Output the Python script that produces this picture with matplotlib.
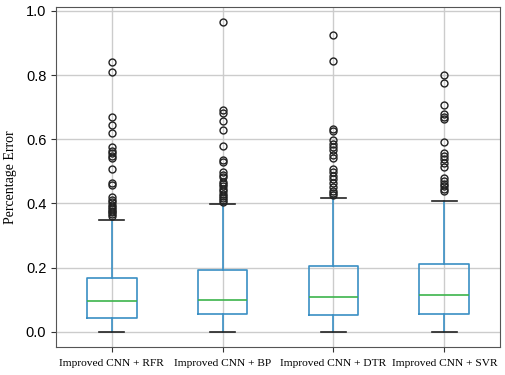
import matplotlib
matplotlib.use("Agg")
import matplotlib.pyplot as plt

# model names shown under each box
labels = ["Improved CNN + RFR", "Improved CNN + BP", "Improved CNN + DTR", "Improved CNN + SVR"]

# box statistics
whis_lo = [0.0, 0.0, 0.0, 0.0]
q1 = [0.044, 0.054, 0.052, 0.055]
median = [0.097, 0.100, 0.109, 0.116]
q3 = [0.167, 0.192, 0.205, 0.211]
whis_hi = [0.350, 0.399, 0.417, 0.409]

# outliers above the upper whisker
fliers_rfr = [0.841, 0.810, 0.670, 0.645, 0.621, 0.575, 0.563, 0.556, 0.549, 0.541, 0.508,
              0.465, 0.458, 0.421, 0.412, 0.404, 0.396, 0.390, 0.384, 0.378, 0.372, 0.366, 0.360]
fliers_bp = [0.965, 0.692, 0.681, 0.658, 0.628, 0.578, 0.537, 0.528, 0.498, 0.489, 0.481,
             0.468, 0.461, 0.453, 0.445, 0.438, 0.431, 0.424, 0.417, 0.410, 0.405]
fliers_dtr = [0.925, 0.843, 0.633, 0.626, 0.598, 0.586, 0.576, 0.568, 0.551, 0.541, 0.507,
              0.498, 0.486, 0.476, 0.463, 0.451, 0.440, 0.432, 0.425]
fliers_svr = [0.801, 0.775, 0.706, 0.679, 0.671, 0.664, 0.592, 0.557, 0.549, 0.538, 0.525,
              0.515, 0.479, 0.470, 0.462, 0.455, 0.446, 0.438]
fliers = [fliers_rfr, fliers_bp, fliers_dtr, fliers_svr]

stats = []
for i in range(len(labels)):
    stats.append({"label": labels[i], "whislo": whis_lo[i], "q1": q1[i], "med": median[i],
                  "q3": q3[i], "whishi": whis_hi[i], "fliers": fliers[i]})

fig = plt.figure(figsize=(5.05, 3.75), dpi=100)
ax = fig.add_axes([0.111, 0.075, 0.879, 0.906])

blue = "#3a8fc4"
ax.bxp(stats, widths=0.45,
       boxprops=dict(color=blue, linewidth=1.2),
       whiskerprops=dict(color=blue, linewidth=1.2),
       medianprops=dict(color="#3cb44b", linewidth=1.2),
       capprops=dict(color="#222222", linewidth=1.2),
       flierprops=dict(marker="o", markerfacecolor="none", markeredgecolor="#222222",
                       markersize=5, markeredgewidth=1.0))

ax.set_xlim(0.5, 4.5)
ax.set_ylim(-0.047, 1.012)
ax.set_yticks([0.0, 0.2, 0.4, 0.6, 0.8, 1.0])
ax.grid(True, color="#cccccc", linewidth=1.0)
ax.set_axisbelow(True)
for s in ax.spines.values():
    s.set_color("#555555")

ax.set_xticklabels(labels, family="Liberation Serif", fontsize=8.2)
for t in ax.get_yticklabels():
    t.set_family("Liberation Sans")
    t.set_fontsize(10.5)
ax.set_ylabel("Percentage Error", family="Liberation Serif", fontsize=10, labelpad=6)
ax.tick_params(colors="#333333", labelcolor="black")
ax.tick_params(axis="x", pad=5)

fig.savefig("out.png")
